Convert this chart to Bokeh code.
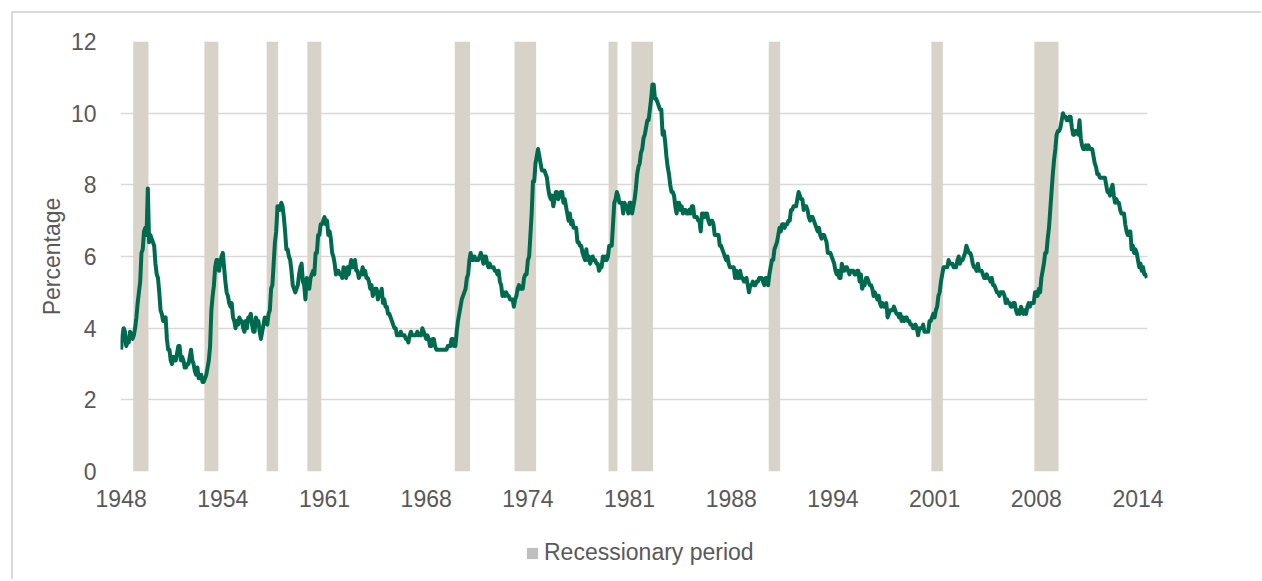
from bokeh.plotting import figure
from bokeh.layouts import column
from bokeh.models import FixedTicker, Legend, LegendItem, Range1d
from bokeh.embed import file_html
from bokeh.resources import INLINE

# ---------------- data ----------------
start_year = 1948  # first month of the series = January 1948

# Monthly unemployment rate (%), Jan 1948 .. Apr 2015
rate_pct = [
    3.4, 3.8, 4.0, 3.9, 3.5, 3.6, 3.6, 3.9, 3.8, 3.7, 3.8, 4.0,  # 1948
    4.3, 4.7, 5.0, 5.3, 6.1, 6.2, 6.7, 6.8, 6.6, 7.9, 6.4, 6.6,  # 1949
    6.5, 6.4, 6.3, 5.8, 5.5, 5.4, 5.0, 4.5, 4.4, 4.2, 4.2, 4.3,  # 1950
    3.7, 3.4, 3.4, 3.1, 3.0, 3.2, 3.1, 3.1, 3.3, 3.5, 3.5, 3.1,  # 1951
    3.2, 3.1, 2.9, 2.9, 3.0, 3.0, 3.2, 3.4, 3.1, 3.0, 2.8, 2.7,  # 1952
    2.9, 2.6, 2.6, 2.7, 2.5, 2.5, 2.6, 2.7, 2.9, 3.1, 3.5, 4.5,  # 1953
    4.9, 5.2, 5.7, 5.9, 5.9, 5.6, 5.8, 6.0, 6.1, 5.7, 5.3, 5.0,  # 1954
    4.9, 4.7, 4.6, 4.7, 4.3, 4.2, 4.0, 4.2, 4.1, 4.3, 4.2, 4.2,  # 1955
    4.0, 3.9, 4.2, 4.0, 4.3, 4.3, 4.4, 4.1, 3.9, 3.9, 4.3, 4.2,  # 1956
    4.2, 3.9, 3.7, 3.9, 4.1, 4.3, 4.2, 4.1, 4.4, 4.5, 5.1, 5.2,  # 1957
    5.8, 6.4, 6.7, 7.4, 7.4, 7.3, 7.5, 7.4, 7.1, 6.7, 6.2, 6.2,  # 1958
    6.0, 5.9, 5.6, 5.2, 5.1, 5.0, 5.1, 5.2, 5.5, 5.7, 5.8, 5.3,  # 1959
    5.2, 4.8, 5.4, 5.2, 5.1, 5.4, 5.5, 5.6, 5.5, 6.1, 6.1, 6.6,  # 1960
    6.6, 6.9, 6.9, 7.0, 7.1, 6.9, 7.0, 6.6, 6.7, 6.5, 6.1, 6.0,  # 1961
    5.8, 5.5, 5.6, 5.6, 5.5, 5.5, 5.4, 5.7, 5.6, 5.4, 5.7, 5.5,  # 1962
    5.7, 5.9, 5.7, 5.7, 5.9, 5.6, 5.6, 5.4, 5.5, 5.5, 5.7, 5.5,  # 1963
    5.6, 5.4, 5.4, 5.3, 5.1, 5.2, 4.9, 5.0, 5.1, 5.1, 4.8, 5.0,  # 1964
    4.9, 5.1, 4.7, 4.8, 4.6, 4.6, 4.4, 4.4, 4.3, 4.2, 4.1, 4.0,  # 1965
    4.0, 3.8, 3.8, 3.8, 3.9, 3.8, 3.8, 3.8, 3.7, 3.7, 3.6, 3.8,  # 1966
    3.9, 3.8, 3.8, 3.8, 3.8, 3.9, 3.8, 3.8, 3.8, 4.0, 3.9, 3.8,  # 1967
    3.7, 3.8, 3.7, 3.5, 3.5, 3.7, 3.7, 3.5, 3.4, 3.4, 3.4, 3.4,  # 1968
    3.4, 3.4, 3.4, 3.4, 3.4, 3.5, 3.5, 3.5, 3.7, 3.7, 3.5, 3.5,  # 1969
    3.9, 4.2, 4.4, 4.6, 4.8, 4.9, 5.0, 5.1, 5.4, 5.5, 5.9, 6.1,  # 1970
    5.9, 5.9, 6.0, 5.9, 5.9, 5.9, 6.0, 6.1, 6.0, 5.8, 6.0, 6.0,  # 1971
    5.8, 5.7, 5.8, 5.7, 5.7, 5.7, 5.6, 5.6, 5.5, 5.6, 5.3, 5.2,  # 1972
    4.9, 5.0, 4.9, 5.0, 4.9, 4.9, 4.8, 4.8, 4.8, 4.6, 4.8, 4.9,  # 1973
    5.1, 5.2, 5.1, 5.1, 5.1, 5.4, 5.5, 5.5, 5.9, 6.0, 6.6, 7.2,  # 1974
    8.1, 8.1, 8.6, 8.8, 9.0, 8.8, 8.6, 8.4, 8.4, 8.4, 8.3, 8.2,  # 1975
    7.9, 7.7, 7.6, 7.7, 7.4, 7.6, 7.8, 7.8, 7.6, 7.7, 7.8, 7.8,  # 1976
    7.5, 7.6, 7.4, 7.2, 7.0, 7.2, 6.9, 7.0, 6.8, 6.8, 6.8, 6.4,  # 1977
    6.4, 6.3, 6.3, 6.1, 6.0, 5.9, 6.2, 5.9, 6.0, 5.8, 5.9, 6.0,  # 1978
    5.9, 5.9, 5.8, 5.8, 5.6, 5.7, 5.7, 6.0, 5.9, 6.0, 5.9, 6.0,  # 1979
    6.3, 6.3, 6.3, 6.9, 7.5, 7.6, 7.8, 7.7, 7.5, 7.5, 7.5, 7.2,  # 1980
    7.5, 7.4, 7.4, 7.2, 7.5, 7.5, 7.2, 7.4, 7.6, 7.9, 8.3, 8.5,  # 1981
    8.6, 8.9, 9.0, 9.3, 9.4, 9.6, 9.8, 9.8, 10.1, 10.4, 10.8, 10.8,  # 1982
    10.4, 10.4, 10.3, 10.2, 10.1, 10.1, 9.4, 9.5, 9.2, 8.8, 8.5, 8.3,  # 1983
    8.0, 7.8, 7.8, 7.7, 7.4, 7.2, 7.5, 7.5, 7.3, 7.4, 7.2, 7.3,  # 1984
    7.3, 7.2, 7.2, 7.3, 7.2, 7.4, 7.4, 7.1, 7.1, 7.1, 7.0, 7.0,  # 1985
    6.7, 7.2, 7.2, 7.1, 7.2, 7.2, 7.0, 6.9, 7.0, 7.0, 6.9, 6.6,  # 1986
    6.6, 6.6, 6.6, 6.3, 6.3, 6.2, 6.1, 6.0, 5.9, 6.0, 5.8, 5.7,  # 1987
    5.7, 5.7, 5.7, 5.4, 5.6, 5.4, 5.4, 5.6, 5.4, 5.4, 5.3, 5.3,  # 1988
    5.4, 5.2, 5.0, 5.2, 5.2, 5.3, 5.2, 5.2, 5.3, 5.3, 5.4, 5.4,  # 1989
    5.4, 5.3, 5.2, 5.4, 5.4, 5.2, 5.5, 5.7, 5.9, 5.9, 6.2, 6.3,  # 1990
    6.4, 6.6, 6.8, 6.7, 6.9, 6.9, 6.8, 6.9, 6.9, 7.0, 7.0, 7.3,  # 1991
    7.3, 7.4, 7.4, 7.4, 7.6, 7.8, 7.7, 7.6, 7.6, 7.3, 7.4, 7.4,  # 1992
    7.3, 7.1, 7.0, 7.1, 7.1, 7.0, 6.9, 6.8, 6.7, 6.8, 6.6, 6.5,  # 1993
    6.6, 6.6, 6.5, 6.4, 6.1, 6.1, 6.1, 6.0, 5.9, 5.8, 5.6, 5.5,  # 1994
    5.6, 5.4, 5.4, 5.8, 5.6, 5.6, 5.7, 5.7, 5.6, 5.5, 5.6, 5.6,  # 1995
    5.6, 5.5, 5.5, 5.6, 5.6, 5.3, 5.5, 5.1, 5.2, 5.2, 5.4, 5.4,  # 1996
    5.3, 5.2, 5.2, 5.1, 4.9, 5.0, 4.9, 4.8, 4.9, 4.7, 4.6, 4.7,  # 1997
    4.6, 4.6, 4.7, 4.3, 4.4, 4.5, 4.5, 4.5, 4.6, 4.5, 4.4, 4.4,  # 1998
    4.3, 4.4, 4.2, 4.3, 4.2, 4.3, 4.3, 4.2, 4.2, 4.1, 4.1, 4.0,  # 1999
    4.0, 4.1, 4.0, 3.8, 4.0, 4.0, 4.0, 4.1, 3.9, 3.9, 3.9, 3.9,  # 2000
    4.2, 4.2, 4.3, 4.4, 4.3, 4.5, 4.6, 4.9, 5.0, 5.3, 5.5, 5.7,  # 2001
    5.7, 5.7, 5.7, 5.9, 5.8, 5.8, 5.8, 5.7, 5.7, 5.7, 5.9, 6.0,  # 2002
    5.8, 5.9, 5.9, 6.0, 6.1, 6.3, 6.2, 6.1, 6.1, 6.0, 5.8, 5.7,  # 2003
    5.7, 5.6, 5.8, 5.6, 5.6, 5.6, 5.5, 5.4, 5.4, 5.5, 5.4, 5.4,  # 2004
    5.3, 5.4, 5.2, 5.2, 5.1, 5.0, 5.0, 4.9, 5.0, 5.0, 5.0, 4.9,  # 2005
    4.7, 4.8, 4.7, 4.7, 4.6, 4.6, 4.7, 4.7, 4.5, 4.4, 4.5, 4.4,  # 2006
    4.6, 4.5, 4.4, 4.5, 4.4, 4.6, 4.7, 4.6, 4.7, 4.7, 4.7, 5.0,  # 2007
    5.0, 4.9, 5.1, 5.0, 5.4, 5.6, 5.8, 6.1, 6.1, 6.5, 6.8, 7.3,  # 2008
    7.8, 8.3, 8.7, 9.0, 9.4, 9.5, 9.5, 9.6, 9.8, 10.0, 9.9, 9.9,  # 2009
    9.8, 9.8, 9.9, 9.9, 9.6, 9.4, 9.4, 9.5, 9.5, 9.4, 9.8, 9.3,  # 2010
    9.1, 9.0, 9.0, 9.1, 9.0, 9.1, 9.0, 9.0, 9.0, 8.8, 8.6, 8.5,  # 2011
    8.3, 8.3, 8.2, 8.2, 8.2, 8.2, 8.2, 8.0, 7.8, 7.8, 7.7, 7.9,  # 2012
    8.0, 7.7, 7.5, 7.6, 7.5, 7.5, 7.3, 7.2, 7.2, 7.2, 6.9, 6.7,  # 2013
    6.6, 6.7, 6.7, 6.2, 6.3, 6.1, 6.2, 6.1, 5.9, 5.7, 5.8, 5.6,  # 2014
    5.7, 5.5, 5.5, 5.4,                                          # 2015
]

# NBER recessions (first and last month)
recession_start = ["1948-11", "1953-07", "1957-08", "1960-04", "1969-12", "1973-11",
                   "1980-01", "1981-07", "1990-07", "2001-03", "2007-12"]
recession_end = ["1949-10", "1954-05", "1958-04", "1961-02", "1970-11", "1975-03",
                 "1980-07", "1982-11", "1991-03", "2001-11", "2009-06"]

# category-axis labels, one every 80 months starting with the first month
tick_labels = ["1948", "1954", "1961", "1968", "1974", "1981",
               "1988", "1994", "2001", "2008", "2014"]
tick_step_months = 80

y_ticks = [0, 2, 4, 6, 8, 10, 12]
y_max = 12


def month_index(s):
    y, m = s.split("-")
    return (int(y) - start_year) * 12 + int(m) - 1


months = list(range(len(rate_pct)))
rec_left = [month_index(s) - 0.5 for s in recession_start]
rec_right = [month_index(s) + 0.5 for s in recession_end]
tick_pos = [i * tick_step_months for i in range(len(tick_labels))]

# ---------------- figure ----------------
FONT = "Liberation Sans"
TXT = "#595959"
GRID = "#D9D9D9"

p = figure(
    output_backend="svg", toolbar_location=None,
    frame_width=1027, frame_height=430,
    width=1248, height=500,
    x_range=Range1d(-0.5, len(rate_pct) - 0.5),
    y_range=Range1d(0, y_max),
    min_border_left=107, min_border_top=28, min_border_right=114, min_border_bottom=42,
    background_fill_color="white", border_fill_color="white",
    outline_line_color=None,
)

p.quad(left=rec_left, right=rec_right, bottom=0, top=y_max,
       fill_color="#D8D3C8", line_color=None)
p.line(months, rate_pct, line_color="#006A4E", line_width=4, line_join="round")

# axes
p.xaxis.ticker = FixedTicker(ticks=tick_pos)
p.xaxis.major_label_overrides = {t: lab for t, lab in zip(tick_pos, tick_labels)}
p.yaxis.ticker = FixedTicker(ticks=y_ticks)
for ax in (p.xaxis[0], p.yaxis[0]):
    ax.axis_line_color = None
    ax.major_tick_line_color = None
    ax.minor_tick_line_color = None
    ax.major_label_text_font = FONT
    ax.major_label_text_font_size = "23px"
    ax.major_label_text_color = TXT
p.xaxis.major_label_standoff = 12
p.yaxis.major_label_standoff = 18
p.yaxis.axis_label = "Percentage"
p.yaxis.axis_label_text_font = FONT
p.yaxis.axis_label_text_font_size = "23px"
p.yaxis.axis_label_text_font_style = "normal"
p.yaxis.axis_label_text_color = TXT
p.yaxis.axis_label_standoff = 3

p.xgrid.visible = False
p.ygrid.grid_line_color = GRID
p.ygrid.grid_line_width = 1.5

# ---- legend strip underneath the chart ----
# (the recession quads are repeated here outside the visible y range only to
#  provide the legend's gray swatch)
pl = figure(
    output_backend="svg", toolbar_location=None,
    width=1248, height=66,
    x_axis_location=None, y_axis_location=None,
    x_range=Range1d(-0.5, len(rate_pct) - 0.5),
    y_range=Range1d(y_max + 1, y_max + 2),
    min_border=0, outline_line_color=None,
    background_fill_color="white", border_fill_color="white",
)
pl.grid.visible = False
legend_swatch = pl.quad(left=rec_left, right=rec_right, bottom=0, top=y_max,
                        fill_color="#BFBFBF", line_color=None)
legend = Legend(
    items=[LegendItem(label="Recessionary period", renderers=[legend_swatch])],
    orientation="horizontal", location=(405, 13),
    border_line_color=None, background_fill_alpha=0,
    label_text_font=FONT, label_text_font_size="23px", label_text_color=TXT,
    glyph_width=14, glyph_height=14, label_standoff=5, padding=4, margin=0,
)
pl.add_layout(legend)

layout = column(p, pl, spacing=0)
layout.styles = {"border-left": "2px solid #D9D9D9", "border-top": "2px solid #D9D9D9",
                 "margin-left": "11px", "margin-top": "11px"}

open("out.html", "w").write(file_html(layout, INLINE))
